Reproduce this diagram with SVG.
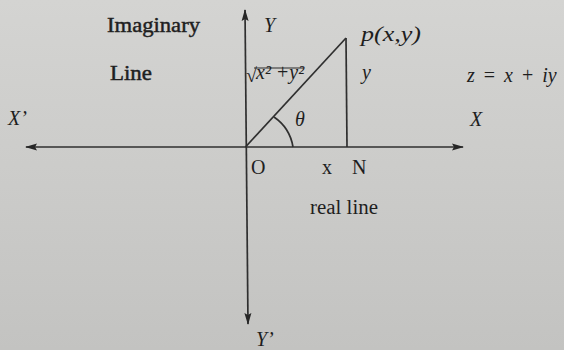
<svg xmlns="http://www.w3.org/2000/svg" width="564" height="350" viewBox="0 0 564 350">
<defs>
<marker id="ah" viewBox="0 0 12 8" refX="11" refY="4" markerWidth="12" markerHeight="8" orient="auto-start-reverse" markerUnits="userSpaceOnUse">
<path d="M0,0.5 L12,4 L0,7.5 L2,4 z" fill="#262626"/>
</marker>
<linearGradient id="bg" x1="0" y1="0" x2="0" y2="1">
<stop offset="0" stop-color="#d4d4d2"/>
<stop offset="1" stop-color="#c3c3c1"/>
</linearGradient>
</defs>
<style>
.t{font-family:"Liberation Serif","DejaVu Serif",serif;fill:#1e1e1e;font-size:20px}
.i{font-style:italic}
.b{stroke:#222;stroke-width:0.45}
.ln{stroke:#2f2f2f;stroke-width:1.7;fill:none}
</style>
<rect width="564" height="350" fill="url(#bg)"/>
<g id="connectors">
<line class="ln" x1="26" y1="147" x2="463" y2="147" marker-start="url(#ah)" marker-end="url(#ah)"/>
<line class="ln" x1="245" y1="10" x2="248" y2="324" marker-start="url(#ah)" marker-end="url(#ah)"/>
<line class="ln" x1="245.5" y1="147" x2="346" y2="38"/>
<line class="ln" x1="346" y1="38" x2="347" y2="147"/>
<path class="ln" d="M274,117 A45,45 0 0 1 293,147" stroke-width="1.5"/>
</g>
<g id="labels">
<text class="t b" x="107" y="32" font-size="23" textLength="93" lengthAdjust="spacingAndGlyphs">Imaginary</text>
<text class="t b" x="110" y="80" font-size="23" textLength="42" lengthAdjust="spacingAndGlyphs">Line</text>
<text class="t i" x="264" y="32">Y</text>
<text class="t i" x="361" y="41" font-size="22" textLength="60" lengthAdjust="spacingAndGlyphs">p(x,y)</text>
<text class="t" x="246" y="82" font-size="14">√</text>
<line x1="254" y1="68" x2="303" y2="68" stroke="#2a2a2a" stroke-width="1.2"/>
<text class="t i" x="256" y="79" font-size="11">x² +y²</text>
<text class="t i" x="362" y="79">y</text>
<text class="t i" x="295" y="126" font-size="18">θ</text>
<text class="t i" x="467" y="82" font-size="22" word-spacing="4" xml:space="preserve">z <tspan font-style="normal">=</tspan> x <tspan font-style="normal">+</tspan> iy</text>
<text class="t i" x="8" y="125" font-size="21">X’</text>
<text class="t i" x="470" y="126" font-size="21">X</text>
<text class="t" x="251" y="174" font-size="19">O</text>
<text class="t" x="322" y="174" font-size="19">x</text>
<text class="t" x="352" y="174" font-size="19">N</text>
<text class="t" x="310" y="214" textLength="68" lengthAdjust="spacingAndGlyphs">real line</text>
<text class="t i" x="256" y="346">Y’</text>
</g>
</svg>
